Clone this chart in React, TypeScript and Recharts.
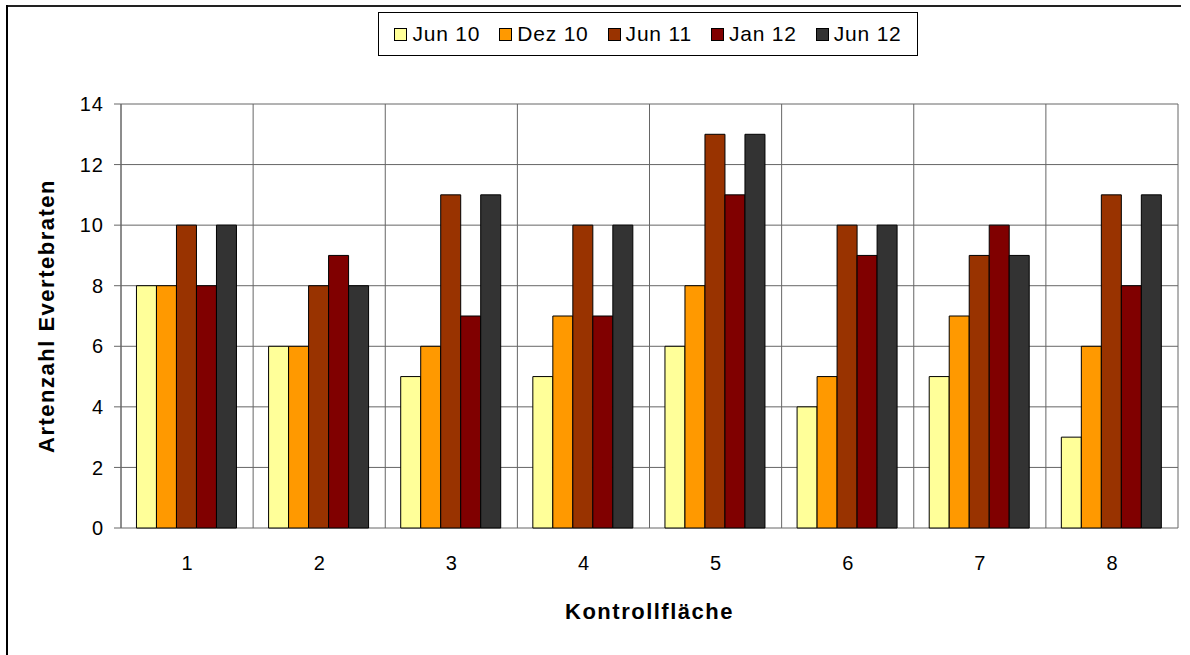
import React from "react";
import { BarChart, Bar, XAxis, YAxis, CartesianGrid, Label } from "recharts";

const categories = ["1", "2", "3", "4", "5", "6", "7", "8"];
const seriesNames = ["Jun 10", "Dez 10", "Jun 11", "Jan 12", "Jun 12"];
const jun10 = [8, 6, 5, 5, 6, 4, 5, 3];
const dez10 = [8, 6, 6, 7, 8, 5, 7, 6];
const jun11 = [10, 8, 11, 10, 13, 10, 9, 11];
const jan12 = [8, 9, 7, 7, 11, 9, 10, 8];
const jun12b = [10, 8, 11, 10, 13, 10, 9, 11];
const yTicks = [0, 2, 4, 6, 8, 10, 12, 14];
const boundaryTicks = [0, 1, 2, 3, 4, 5, 6, 7, 8];

const colors = ["#FFFF99", "#FF9900", "#993300", "#800000", "#333333"];
const keys = ["s0", "s1", "s2", "s3", "s4"];
const allSeries = [jun10, dez10, jun11, jan12, jun12b];

const data = categories.map((c, i) => {
  const row: any = { name: c };
  allSeries.forEach((s, k) => (row[keys[k]] = s[i]));
  return row;
});

const FONT = "'Liberation Sans', Arial, sans-serif";
const GRID = "#666";

const LegendBox = () => (
  <div
    style={{
      position: "absolute",
      left: 378,
      top: 12,
      width: 540,
      height: 44,
      border: "1px solid #000",
      display: "flex",
      alignItems: "center",
      justifyContent: "center",
      boxSizing: "border-box",
      fontFamily: FONT,
      fontSize: 21,
      letterSpacing: 0.8,
      color: "#000",
      background: "#fff",
      zIndex: 2,
    }}
  >
    {seriesNames.map((n, i) => (
      <span key={n} style={{ display: "flex", alignItems: "center", marginRight: i < 4 ? 19 : 0 }}>
        <span
          style={{
            display: "inline-block",
            width: 11,
            height: 11,
            background: colors[i],
            border: "1px solid #000",
            marginRight: 5,
          }}
        />
        {n}
      </span>
    ))}
  </div>
);

const EmptyTick = () => <g />;

export default function App() {
  return (
    <div style={{ position: "absolute", left: 0, top: 0, width: 1190, height: 655, background: "#fff" }}>
      <div style={{ position: "absolute", left: 6, top: 5, width: 1175, height: 2, background: "#222" }} />
      <div style={{ position: "absolute", left: 6, top: 5, width: 2, height: 650, background: "#000" }} />
      <LegendBox />
      <BarChart
        width={1190}
        height={655}
        data={data}
        margin={{ top: 104, right: 12, bottom: 67, left: 0 }}
        barCategoryGap="11.7%"
        barGap={0}
        style={{ fontFamily: FONT }}
      >
        <CartesianGrid
          stroke={GRID}
          strokeWidth={1}
          vertical={true}
          horizontal={true}
          verticalCoordinatesGenerator={({ offset }: any) =>
            boundaryTicks.map((t) => offset.left + (t * offset.width) / categories.length)
          }
        />
        <XAxis
          xAxisId="grid"
          type="number"
          domain={[0, 8]}
          ticks={boundaryTicks}
          tick={<EmptyTick />}
          tickSize={7}
          height={0}
          axisLine={{ stroke: GRID }}
          tickLine={{ stroke: GRID }}
          interval={0}
        />
        <XAxis
          dataKey="name"
          tickLine={false}
          axisLine={false}
          tickSize={0}
          tickMargin={28}
          height={60}
          tick={{ fill: "#000", fontSize: 20, fontFamily: FONT }}
        >
          <Label
            value="Kontrollfläche"
            position="insideBottom"
            offset={-31}
            style={{ fontWeight: "bold", fontSize: 22, letterSpacing: 1.5, fill: "#000", fontFamily: FONT }}
          />
        </XAxis>
        <YAxis
          domain={[0, 14]}
          ticks={yTicks}
          width={121}
          tickSize={7}
          tickMargin={10}
          axisLine={{ stroke: GRID }}
          tickLine={{ stroke: GRID }}
          tick={{ fill: "#000", fontSize: 20, letterSpacing: 1, fontFamily: FONT }}
        >
          <Label
            value="Artenzahl Evertebraten"
            angle={-90}
            position="insideLeft"
            offset={46}
            style={{ fontWeight: "bold", fontSize: 22, letterSpacing: 1.5, fill: "#000", fontFamily: FONT, textAnchor: "middle" }}
          />
        </YAxis>
        {keys.map((k, i) => (
          <Bar
            key={k}
            dataKey={k}
            name={seriesNames[i]}
            fill={colors[i]}
            stroke="#000"
            strokeWidth={1}
            isAnimationActive={false}
          />
        ))}
      </BarChart>
    </div>
  );
}
